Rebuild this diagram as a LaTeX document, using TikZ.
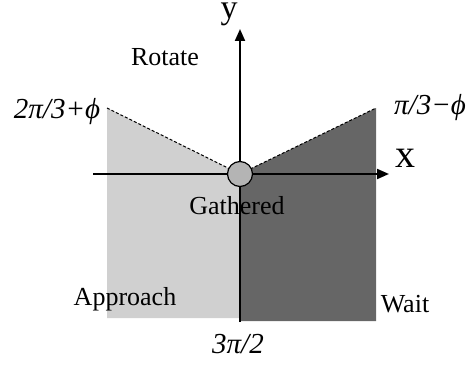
\documentclass[tikz,border=0pt]{standalone}
\usepackage{fontspec}
\setmainfont{Liberation Serif}
\usetikzlibrary{arrows.meta, positioning, calc}

\definecolor{lightregion}{HTML}{D0D0D0}
\definecolor{darkregion}{HTML}{666666}
\definecolor{centerfill}{HTML}{B4B4B4}

\begin{document}
\begin{tikzpicture}[x=1pt, y=-1pt,
        lbl/.style={font=\fontsize{26}{30}\selectfont, inner sep=0pt},
        anglelbl/.style={font=\fontsize{29}{33}\selectfont\itshape, inner sep=0pt},
        axislbl/.style={font=\fontsize{40}{44}\selectfont, inner sep=0pt},
        axis/.style={line width=2pt, -{Triangle[length=12pt, width=10pt]}}]
        \useasboundingbox (0,0) rectangle (468,366);
        % Points
        \coordinate (O) at (240,174);
        \coordinate (LeftTop) at (107,108);
        \coordinate (RightTop) at (376,108);
        \coordinate (XStart) at (93,174);
        \coordinate (XEnd) at (389,174);
        \coordinate (YStart) at (240,322);
        \coordinate (YEnd) at (240,29);
        % Regions
        \fill[lightregion] (LeftTop) -- (O) -- (240,318) -- (107,318) -- cycle;
        \fill[darkregion] (O) -- (RightTop) -- (376,321) -- (240,321) -- cycle;
        \draw[dash pattern=on 3pt off 2pt, line width=1pt] (LeftTop) -- (O) -- (RightTop);
        % Axes
        \draw[axis] (XStart) -- (XEnd);
        \draw[axis] (YStart) -- (YEnd);
        \node[axislbl] (xlabel) at (405,158) {x};
        \node[axislbl, font=\fontsize{34}{38}\selectfont, anchor=north] (ylabel) at (229,3) {y};
        % Nodes
        \node[draw, circle, line width=1.2pt, fill=centerfill, minimum size=25pt, inner sep=0pt] (Center) at (O) {};
        \node[lbl] (Rotate) at (165,57) {Rotate};
        \node[lbl] (Gathered) at (237,206) {Gathered};
        \node[lbl] (Approach) at (125,299) {Approach};
        \node[lbl] (Wait) at (405,304) {Wait};
        \node[anglelbl] (LeftAngle) at (57,112) {2π/3+ϕ};
        \node[anglelbl] (RightAngle) at (430,108) {π/3−ϕ};
        \node[anglelbl] (BottomAngle) at (238,344) {3π/2};
    \end{tikzpicture}
\end{document}
